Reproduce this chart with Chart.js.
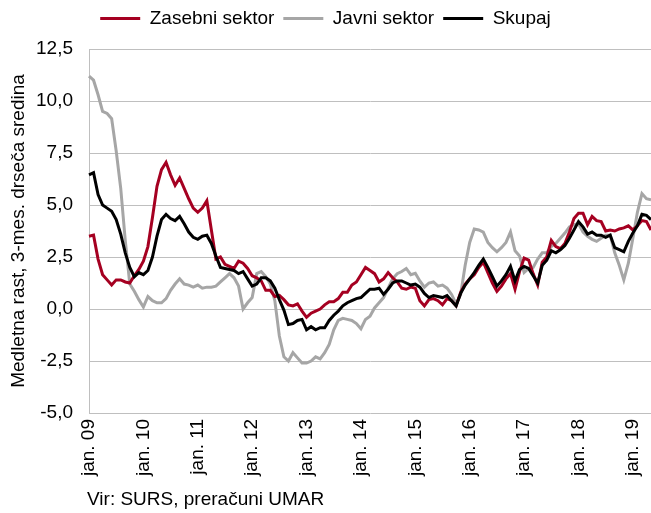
<!DOCTYPE html>
<html lang="sl">
<head>
    <meta charset="UTF-8">
    <title>Medletna rast plač po sektorjih</title>
    <script src="https://cdn.jsdelivr.net/npm/chart.js@4.4.0/dist/chart.umd.min.js"></script>
    <style>
        body { margin: 0; background: #fff; }
        .wrap { width: 651px; height: 513px; position: relative; }
    </style>
</head>
<body>
    <div class="wrap">
        <canvas id="chart"></canvas>
    </div>

    <script>
        // monthly, jan. 2009 - maj 2019 (3-month moving average, y/y growth in %)
        const years = ['09', '10', '11', '12', '13', '14', '15', '16', '17', '18', '19'];
        const nMonths = 125;

        const zasebni = [
            3.5, 3.55, 2.4, 1.65, 1.4, 1.15, 1.4, 1.4, 1.3, 1.25, 1.6, 1.9,
            2.3, 3.0, 4.4, 5.9, 6.7, 7.05, 6.45, 5.95, 6.3, 5.8, 5.3, 4.85,
            4.65, 4.85, 5.2, 3.8, 2.4, 2.5, 2.15, 2.05, 1.95, 2.3, 2.2, 1.95,
            1.6, 1.5, 1.35, 0.9, 0.9, 0.6, 0.65, 0.45, 0.2, 0.15, 0.25, -0.1,
            -0.4, -0.2, -0.1, 0.0, 0.2, 0.35, 0.35, 0.5, 0.8, 0.8, 1.15, 1.3,
            1.65, 2.0, 1.85, 1.7, 1.3, 1.45, 1.75, 1.5, 1.3, 1.0, 0.95, 1.05,
            1.0, 0.4, 0.15, 0.45, 0.5, 0.4, 0.2, 0.5, 0.4, 0.15, 0.8, 1.2,
            1.45, 1.65, 2.0, 2.25, 1.75, 1.25, 0.85, 1.1, 1.45, 1.7, 0.95, 1.8,
            2.45, 2.35, 1.7, 1.15, 2.25, 2.5, 3.3, 3.0, 2.9, 3.15, 3.7, 4.35,
            4.6, 4.6, 4.05, 4.45, 4.25, 4.2, 3.75, 3.8, 3.75, 3.85, 3.9, 4.0,
            3.8, 4.0, 4.25, 4.2, 3.8
        ];
        const javni = [
            11.2, 11.0, 10.3, 9.5, 9.4, 9.15, 7.6, 5.8, 3.3, 1.2, 0.85, 0.45,
            0.1, 0.6, 0.4, 0.3, 0.3, 0.5, 0.9, 1.2, 1.45, 1.2, 1.15, 1.05,
            1.15, 1.0, 1.05, 1.05, 1.1, 1.3, 1.5, 1.7, 1.5, 1.1, 0.0, 0.3,
            0.55, 1.7, 1.8, 1.55, 1.2, 0.4, -1.3, -2.3, -2.5, -2.1, -2.35, -2.6,
            -2.6, -2.5, -2.3, -2.4, -2.1, -1.7, -1.0, -0.55, -0.45, -0.5, -0.55, -0.7,
            -0.95, -0.5, -0.35, 0.05, 0.3, 0.55, 1.0, 1.45, 1.7, 1.8, 1.95, 1.65,
            1.72, 1.35, 1.05, 1.25, 1.3, 1.1, 1.15, 1.0, 0.7, 0.25, 0.7, 2.1,
            3.2, 3.85, 3.8, 3.7, 3.2, 2.95, 2.75, 2.95, 3.2, 3.7, 2.8, 2.55,
            1.75, 1.95, 2.0, 2.4, 2.7, 2.7, 3.0, 3.15, 3.4, 3.65, 3.95, 4.05,
            4.1, 3.7, 3.5, 3.35, 3.25, 3.4, 3.55, 3.55, 2.7, 2.1, 1.4, 2.2,
            3.4, 4.65, 5.55, 5.3, 5.25
        ];
        const skupaj = [
            6.45, 6.55, 5.5, 5.0, 4.85, 4.7, 4.3, 3.6, 2.7, 2.0, 1.55, 1.75,
            1.65, 1.85, 2.5, 3.5, 4.3, 4.55, 4.35, 4.25, 4.45, 4.1, 3.7, 3.45,
            3.35, 3.5, 3.55, 3.15, 2.55, 2.0, 1.95, 1.9, 1.85, 1.7, 1.8, 1.45,
            1.1, 1.2, 1.5, 1.5, 1.35, 1.0, 0.45, -0.05, -0.75, -0.7, -0.55, -0.5,
            -1.0, -0.85, -1.0, -0.9, -0.9, -0.55, -0.3, -0.1, 0.15, 0.3, 0.4, 0.5,
            0.55, 0.75, 0.95, 0.95, 1.0, 0.7, 0.95, 1.25, 1.35, 1.35, 1.25, 1.15,
            1.2, 1.05, 0.75, 0.55, 0.65, 0.6, 0.55, 0.65, 0.4, 0.15, 0.75, 1.15,
            1.45, 1.75, 2.1, 2.4, 2.0, 1.55, 1.1, 1.35, 1.65, 2.05, 1.35, 1.9,
            2.05, 1.95, 1.6, 1.25, 2.1, 2.35, 2.8, 2.7, 2.85, 3.05, 3.4, 3.8,
            4.2, 3.95, 3.6, 3.7, 3.55, 3.55, 3.45, 3.55, 2.95, 2.85, 2.75, 3.25,
            3.65, 4.0, 4.55, 4.5, 4.3
        ];

        // category labels: 'jan. 09' on every january, empty otherwise
        const labels = [];
        for (let i = 0; i < nMonths; i++) {
            labels.push(i % 12 === 0 ? 'jan. ' + years[i / 12] : '');
        }

        const FONT = "'Liberation Sans', Arial, sans-serif";
        Chart.defaults.font.family = FONT;
        Chart.defaults.font.size = 19;
        Chart.defaults.color = '#000';

        // push the plot down a bit below the legend
        const legendGap = {
            id: 'legendGap',
            beforeInit(chart) {
                const fit = chart.legend.fit;
                chart.legend.fit = function () {
                    fit.bind(chart.legend)();
                    this.height += 11;
                };
            }
        };

        const sourceNote = {
            id: 'sourceNote',
            afterDraw(chart) {
                const ctx = chart.ctx;
                ctx.save();
                ctx.font = '19px ' + FONT;
                ctx.fillStyle = '#000';
                ctx.textBaseline = 'middle';
                ctx.textAlign = 'left';
                ctx.fillText('Vir: SURS, preračuni UMAR', chart.chartArea.left - 2, chart.height - 13);
                ctx.restore();
            }
        };

        const line = (label, data, color, order) => ({
            label: label,
            data: data,
            borderColor: color,
            backgroundColor: color,
            borderWidth: 3,
            pointRadius: 0,
            tension: 0,
            fill: false,
            order: order
        });

        new Chart(document.getElementById('chart'), {
            type: 'line',
            data: {
                labels: labels,
                datasets: [
                    line('Zasebni sektor', zasebni, '#a50021', 2),
                    line('Javni sektor', javni, '#a6a6a6', 3),
                    line('Skupaj', skupaj, '#000000', 1)
                ]
            },
            options: {
                responsive: true,
                maintainAspectRatio: false,
                animation: false,
                layout: { padding: { top: 0, right: 0, bottom: 26, left: 0 } },
                plugins: {
                    tooltip: { enabled: false },
                    legend: {
                        position: 'top',
                        labels: {
                            usePointStyle: true,
                            pointStyle: 'line',
                            pointStyleWidth: 40,
                            padding: 9,
                            sort: (a, b) => a.datasetIndex - b.datasetIndex
                        }
                    }
                },
                scales: {
                    x: {
                        type: 'category',
                        offset: false,
                        grid: { display: false, drawTicks: false },
                        border: { display: false },
                        ticks: {
                            autoSkip: false,
                            maxRotation: 90,
                            minRotation: 90,
                            padding: 6
                        },
                        afterFit: s => {
                            s.height = 74;
                            s.paddingLeft = 0;
                            s.paddingRight = 0;
                        }
                    },
                    y: {
                        min: -5,
                        max: 12.5,
                        grid: { color: '#bfbfbf', lineWidth: 1, drawTicks: false },
                        border: { display: true, color: '#bfbfbf', width: 1 },
                        ticks: {
                            stepSize: 2.5,
                            padding: 16,
                            callback: v => v.toFixed(1).replace('.', ',')
                        },
                        title: {
                            display: true,
                            text: 'Medletna rast, 3-mes. drseča sredina',
                            padding: { top: 7, bottom: 0 }
                        },
                        afterFit: s => {
                            s.width = 89;
                            s.paddingTop = 0;
                            s.paddingBottom = 0;
                        }
                    }
                }
            },
            plugins: [legendGap, sourceNote]
        });
    </script>
</body>
</html>
